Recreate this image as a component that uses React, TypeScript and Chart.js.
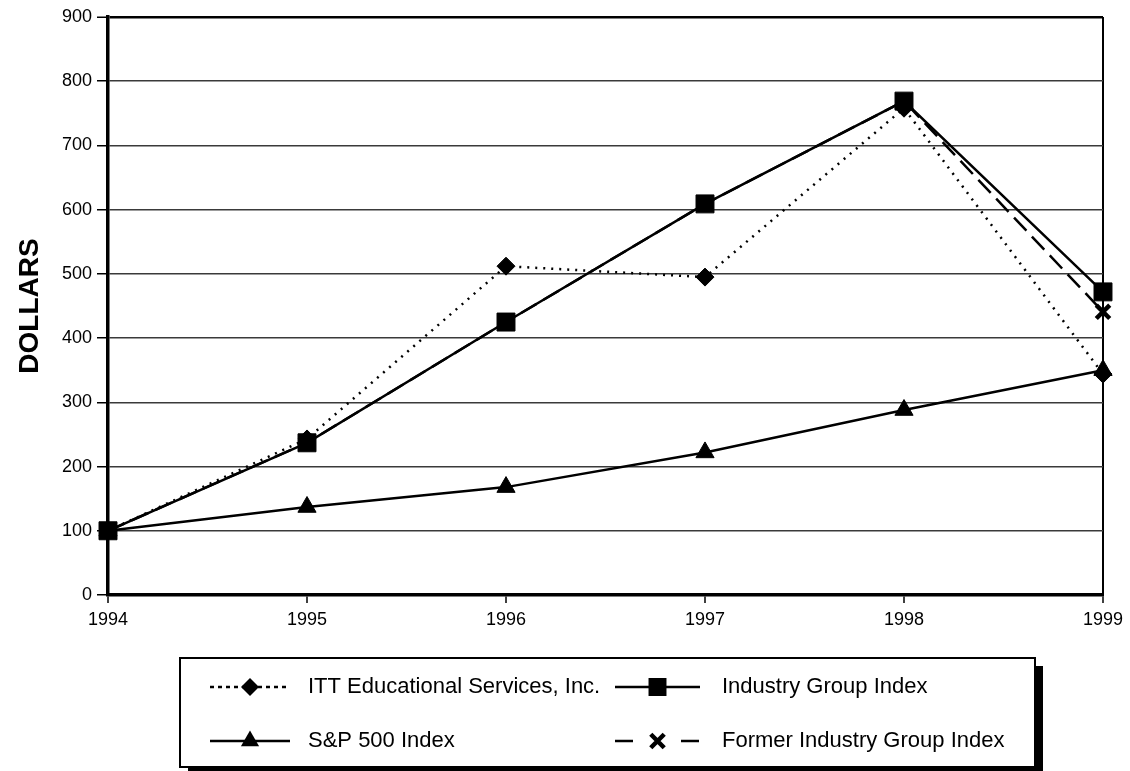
import React, { useEffect, useRef } from 'react';
import { Chart, registerables } from 'chart.js';

Chart.register(...registerables);

const years = ['1994', '1995', '1996', '1997', '1998', '1999'];
const ittValues = [100, 243, 512, 495, 758, 344];
const industryValues = [100, 237, 425, 609, 769, 472];
const spValues = [100, 137, 168, 222, 288, 350];
const formerValues = [100, 237, 425, 609, 769, 441];
const seriesLabels = [
  'ITT Educational Services, Inc.',
  'Industry Group Index',
  'S&P 500 Index',
  'Former Industry Group Index',
];
const yTicks = [0, 100, 200, 300, 400, 500, 600, 700, 800, 900];
const yAxisTitle = 'DOLLARS';

const FONT = '"Liberation Sans", Arial, Helvetica, sans-serif';

function drawMarker(ctx: CanvasRenderingContext2D, style: string, x: number, y: number, r: number, bw: number) {
  ctx.beginPath();
  if (style === 'rect') {
    const s = Math.SQRT1_2 * r;
    ctx.rect(x - s, y - s, 2 * s, 2 * s);
    ctx.fill();
  } else if (style === 'rectRot') {
    ctx.moveTo(x, y - r);
    ctx.lineTo(x + r, y);
    ctx.lineTo(x, y + r);
    ctx.lineTo(x - r, y);
    ctx.closePath();
    ctx.fill();
  } else if (style === 'triangle') {
    const a = -Math.PI / 2;
    for (let k = 0; k < 3; k++) {
      const ang = a + (k * 2 * Math.PI) / 3;
      const px = x + Math.cos(ang) * r;
      const py = y + Math.sin(ang) * r;
      if (k === 0) ctx.moveTo(px, py);
      else ctx.lineTo(px, py);
    }
    ctx.closePath();
    ctx.fill();
  } else if (style === 'crossRot') {
    const d = r * Math.SQRT1_2;
    ctx.lineWidth = bw;
    ctx.setLineDash([]);
    ctx.moveTo(x - d, y - d);
    ctx.lineTo(x + d, y + d);
    ctx.moveTo(x - d, y + d);
    ctx.lineTo(x + d, y - d);
    ctx.stroke();
  }
}

const boxLegend = {
  id: 'boxLegend',
  afterDraw(chart: any) {
    const ctx: CanvasRenderingContext2D = chart.ctx;
    ctx.save();
    const bx = 180, by = 658, bw = 855, bh = 109;
    ctx.fillStyle = '#000';
    ctx.fillRect(bx + 8, by + 8, bw, bh);
    ctx.fillStyle = '#fff';
    ctx.fillRect(bx, by, bw, bh);
    ctx.lineWidth = 2;
    ctx.strokeStyle = '#000';
    ctx.strokeRect(bx, by, bw, bh);

    const cols = [
      { x0: 210, x1: 290, tx: 308 },
      { x0: 615, x1: 700, tx: 722 },
    ];
    const rows = [687, 741];
    chart.data.datasets.forEach((ds: any, i: number) => {
      const c = cols[i % 2];
      const y = rows[Math.floor(i / 2)];
      ctx.strokeStyle = '#000';
      ctx.fillStyle = '#000';
      ctx.lineWidth = ds.borderWidth;
      ctx.setLineDash(ds.legendDash || []);
      ctx.beginPath();
      ctx.moveTo(c.x0, y);
      ctx.lineTo(c.x1, y);
      ctx.stroke();
      ctx.setLineDash([]);
      drawMarker(ctx, ds.pointStyle, (c.x0 + c.x1) / 2, y, ds.pointRadius, ds.pointBorderWidth);
      ctx.font = `22px ${FONT}`;
      ctx.textBaseline = 'middle';
      ctx.textAlign = 'left';
      ctx.fillStyle = '#000';
      ctx.fillText(ds.label, c.tx, y);
    });
    ctx.restore();
  },
};

export default function App() {
  const ref = useRef<HTMLCanvasElement>(null);
  useEffect(() => {
    if (!ref.current) return;
    const chart = new Chart(ref.current, {
      type: 'line',
      data: {
        labels: years,
        datasets: [
          {
            label: seriesLabels[0],
            data: ittValues,
            borderColor: '#000',
            backgroundColor: '#000',
            borderWidth: 2.5,
            borderDash: [2, 6],
            legendDash: [4, 4],
            pointStyle: 'rectRot',
            pointRadius: 9,
            pointBorderWidth: 1,
            pointBackgroundColor: '#000',
            pointBorderColor: '#000',
            order: 2,
            tension: 0,
          } as any,
          {
            label: seriesLabels[1],
            data: industryValues,
            borderColor: '#000',
            backgroundColor: '#000',
            borderWidth: 2.5,
            pointStyle: 'rect',
            pointRadius: 12.7,
            pointBorderWidth: 1,
            pointBackgroundColor: '#000',
            pointBorderColor: '#000',
            order: 0,
            tension: 0,
          } as any,
          {
            label: seriesLabels[2],
            data: spValues,
            borderColor: '#000',
            backgroundColor: '#000',
            borderWidth: 2.5,
            pointStyle: 'triangle',
            pointRadius: 10.5,
            pointBorderWidth: 1,
            pointBackgroundColor: '#000',
            pointBorderColor: '#000',
            order: 3,
            tension: 0,
          } as any,
          {
            label: seriesLabels[3],
            data: formerValues,
            borderColor: '#000',
            backgroundColor: '#000',
            borderWidth: 2.5,
            borderDash: [18, 8],
            legendDash: [18, 48],
            pointStyle: 'crossRot',
            pointRadius: 9.5,
            pointBorderWidth: 4.5,
            pointBackgroundColor: '#000',
            pointBorderColor: '#000',
            order: 1,
            tension: 0,
          } as any,
        ],
      },
      options: {
        animation: false,
        responsive: false,
        events: [],
        layout: { padding: { left: 0, top: 17, right: 27, bottom: 136 } },
        plugins: { legend: { display: false }, tooltip: { enabled: false } },
        scales: {
          x: {
            type: 'category',
            offset: false,
            afterFit: (s: any) => { s.height = 40; },
            border: { display: true, color: '#000', width: 3.5 },
            grid: {
              drawOnChartArea: true,
              color: (c: any) => (c.index === years.length - 1 ? '#000' : 'rgba(0,0,0,0)'),
              lineWidth: 2,
              tickColor: '#000',
              tickWidth: 1.5,
              tickLength: 8,
            },
            ticks: {
              color: '#000',
              font: { family: FONT, size: 18 },
              padding: 6,
              maxRotation: 0,
            },
          },
          y: {
            min: 0,
            max: 900,
            afterFit: (s: any) => { s.width = 108; },
            afterBuildTicks: (s: any) => { s.ticks = yTicks.map((v) => ({ value: v })); },
            border: { display: true, color: '#000', width: 3.5 },
            grid: {
              color: (c: any) => (c.tick && c.tick.value === 900 ? '#000' : '#3a3a3a'),
              lineWidth: (c: any) => (c.tick && c.tick.value === 900 ? 2.5 : 1.5),
              tickColor: '#000',
              tickWidth: 1.5,
              tickLength: 11,
            },
            ticks: {
              color: '#000',
              font: { family: FONT, size: 18 },
              padding: 5,
            },
            title: {
              display: true,
              text: yAxisTitle,
              color: '#000',
              font: { family: FONT, size: 28, weight: 'bold' },
              padding: { top: 13, bottom: 0 },
            },
          },
        },
      },
      plugins: [boxLegend],
    });
    return () => chart.destroy();
  }, []);
  return (
    <div style={{ position: 'absolute', left: 0, top: 0, width: 1130, height: 771, background: '#fff' }}>
      <canvas ref={ref} width={1130} height={771} style={{ display: 'block' }} />
    </div>
  );
}
